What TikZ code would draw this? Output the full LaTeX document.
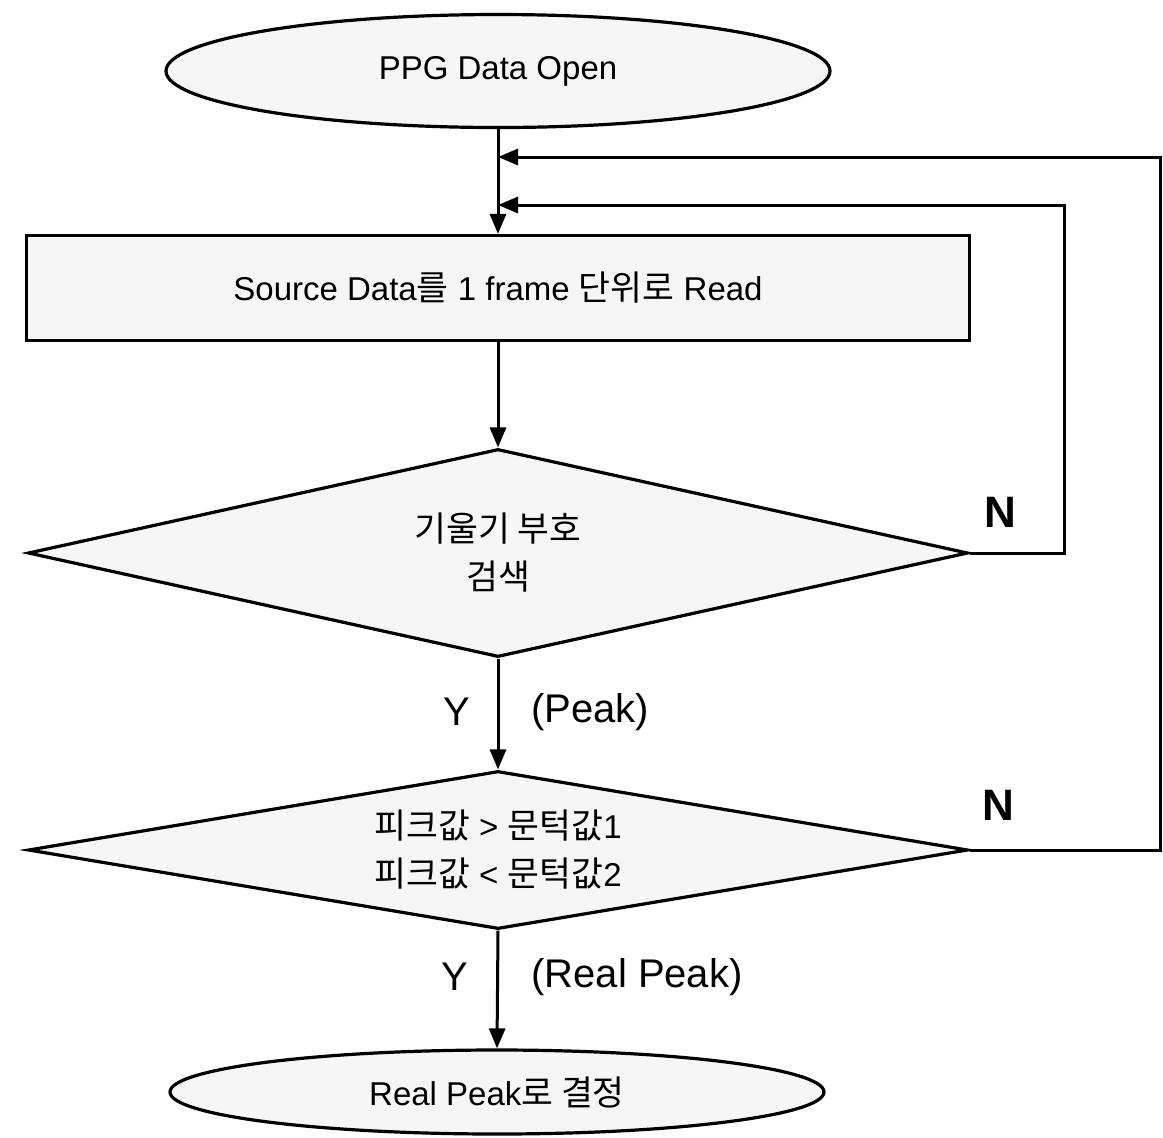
\documentclass[tikz,border=0pt]{standalone}
\usepackage{fontspec}
\setmainfont{Liberation Sans}
\newfontfamily\kr{Noto Sans CJK KR}[Scale=1.05]
\usetikzlibrary{shapes.geometric,arrows.meta}
\tikzset{
  shapeline/.style={draw=black, line width=1.6pt, fill=gray!7, inner sep=0pt},
  termbox/.style={shapeline, ellipse},
  procbox/.style={shapeline, rectangle},
  decbox/.style={shapeline, diamond, aspect=4.5, align=center},
  boxtext/.style={font=\fontsize{16.5}{24}\selectfont},
  lbl/.style={font=\fontsize{20}{24}\selectfont, inner sep=0pt},
  nlbl/.style={font=\fontsize{22}{26}\selectfont\bfseries, inner sep=0pt},
  flow/.style={line width=1.5pt, -{Triangle[length=10pt,width=8pt]}},
}
\begin{document}
\begin{tikzpicture}[x=0.5pt,y=-0.5pt]
\useasboundingbox (0,0) rectangle (1163,1137);
\node[termbox, boxtext, minimum width=332pt, minimum height=56.5pt] (start) at (498,71) {PPG Data Open};
\node[procbox, boxtext, minimum width=471.5pt, minimum height=52.5pt] (read) at (498,288) {Source Data{\kr 를} 1 frame {\kr 단위로} Read};
\node[decbox, boxtext, minimum width=470pt, minimum height=104pt] (slope) at (498,553) {{\kr 기울기 부호}\\{\kr 검색}};
\node[decbox, boxtext, minimum width=470pt, minimum height=79pt] (thr) at (498,850) {{\kr 피크값} > {\kr 문턱값}1\\{\kr 피크값} < {\kr 문턱값}2};
\node[termbox, boxtext, minimum width=327pt, minimum height=42pt] (done) at (497,1092) {Real Peak{\kr 로 결정}};

\coordinate (j1) at (498,157);
\coordinate (j2) at (498,205);
\coordinate (c1) at (1064,205);
\coordinate (c2) at (1160,157);

\draw[flow] (start.south) -- (read.north);
\draw[flow] (read.south) -- (slope.north);
\draw[flow] (slope.south) -- (thr.north);
\draw[flow] (thr.south) -- (done.north);
\draw[flow] (slope.east) -| (c1) -- (j2);
\draw[flow] (thr.east) -| (c2) -- (j1);

\node[lbl] (y1) at (457,712) {Y};
\node[lbl] (p1) at (590,712) {(Peak)};
\node[lbl] (y2) at (455,977) {Y};
\node[lbl] (p2) at (637,977) {(Real Peak)};
\node[nlbl] (n1) at (1000,512) {N};
\node[nlbl] (n2) at (998,805) {N};
\end{tikzpicture}
\end{document}
